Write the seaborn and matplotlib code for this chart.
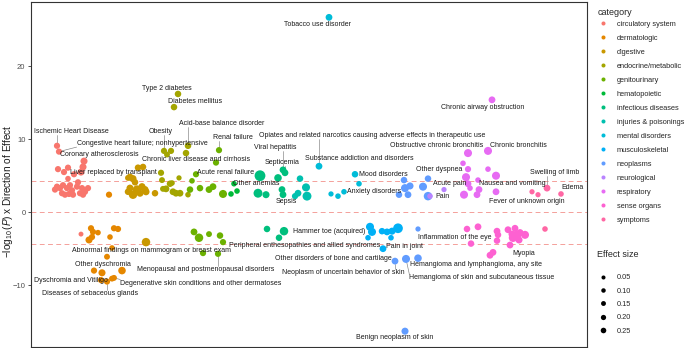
import numpy as np
import pandas as pd
import matplotlib
matplotlib.use("Agg")
import matplotlib.pyplot as plt
import seaborn as sns
from matplotlib.lines import Line2D

# ---------------- data ----------------
categories = ["circulatory system", "dermatologic", "digestive", "endocrine/metabolic",
              "genitourinary", "hematopoietic", "infectious diseases", "injuries & poisonings",
              "mental disorders", "musculoskeletal", "neoplasms", "neurological",
              "respiratory", "sense organs", "symptoms"]
palette_hex = ["#F8766D", "#E58700", "#C99800", "#A3A500", "#6BB100", "#00BA38", "#00BF7D",
               "#00C0AF", "#00BCD8", "#00B0F6", "#619CFF", "#B983FF", "#E76BF3", "#FD61D1",
               "#FF67A4"]

# (phenotype position, -log10(P) x direction, effect size)
circulatory = [(27, 9.1, .35), (29, 8.3, .35), (54, 7.0, .5), (53, 6.2, .5), (28, 5.9, .35),
               (38, 6.1, .35), (34, 5.5, .35), (44, 5.2, .35), (51, 5.5, .5), (38, 4.6, .25),
               (27, 3.5, .35), (30, 3.3, .35), (33, 3.7, .35), (37, 3.3, .35), (40, 3.7, .35),
               (42, 3.0, .35), (47, 3.5, .35), (52, 3.3, .35), (55, 2.8, .35), (58, 3.3, .35),
               (35, 2.4, .35), (43, 2.4, .35), (50, 2.6, .35), (39, 2.5, .35), (53, 2.4, .35),
               (48, 4.1, .35), (32, 2.6, .35), (25, 3.1, .35), (51, -3.0, .15)]
dermatologic = [(79, 2.4, .35), (61, -2.2, .35), (84, -2.2, .35), (88, -2.3, .35), (63, -2.7, .35),
                (68, -2.8, .25), (59, -3.8, .5), (62, -3.4, .35), (80, -3.4, .25), (82, -4.9, .25),
                (77, -6.1, .3), (64, -8.0, .35), (72, -8.3, .5), (92, -8.0, .6), (82, -9.1, .3),
                (77, -9.5, .35), (84, -9.0, .3), (71, -9.3, .35)]
digestive = [(108, 6.1, .4), (113, 6.2, .4), (100, 4.8, .5), (103, 4.6, .5), (105, 4.1, .4),
             (100, 3.3, .5), (107, 3.1, .8), (112, 3.5, .5), (115, 3.1, .5), (103, 2.4, .8),
             (110, 2.6, .5), (125, 2.6, .4), (98, 2.8, .4), (116, 2.8, .5), (98, 4.7, .3),
             (116, -4.1, .8)]
endocrine = [(148, 16.2, .4), (144, 14.4, .4), (134, 8.4, .35), (141, 8.4, .35), (137, 7.9, .3),
             (158, 9.1, .4), (156, 8.1, .4), (131, 5.4, .35), (149, 4.7, .2), (132, 4.4, .3),
             (140, 3.9, .4), (136, 3.2, .45), (143, 2.8, .45), (146, 2.6, .45), (150, 2.6, .45),
             (158, 2.4, .25), (133, 3.2, .3), (142, 4.0, .25)]
genitourinary = [(189, 8.5, .35), (186, 6.8, .35), (166, 5.2, .35), (162, 4.3, .25), (160, 3.1, .4),
                 (170, 3.3, .4), (179, 3.1, .45), (183, 3.5, .45), (193, 2.5, .7), (164, -2.7, .45),
                 (169, -3.5, .8), (179, -3.0, .3), (190, -3.2, .4), (193, -4.1, .35), (173, -5.6, .35),
                 (188, -5.7, .35)]
hematopoietic = [(204, 3.9, .25), (207, 2.9, .25), (201, 2.5, .25)]
infectious = [(230, 5.0, 1.4), (228, 2.6, .9), (236, 2.4, .5), (248, 4.7, .6), (253, 5.8, .45),
              (255, 5.4, .45), (252, 3.1, .45), (253, 2.4, .45), (237, -2.3, .4), (254, -2.6, .8),
              (249, -3.5, .4)]
injuries = [(270, 4.6, .4), (276, 3.4, .7), (277, 2.2, .9), (268, 2.6, .45), (265, 2.2, .35)]
mental = [(299, 26.7, .45), (289, 6.3, .45), (325, 5.2, .4), (329, 3.9, .25), (301, 2.5, .2),
          (308, 2.2, .25), (314, 2.8, .25)]
musculoskeletal = [(340, -2.0, .7), (342, -2.7, .7), (352, -2.6, .4), (357, -2.7, .45),
                   (362, -2.6, .5), (368, -2.2, 1.1), (338, -3.5, .25), (361, -3.5, .25),
                   (353, -5.0, .45)]
neoplasms = [(374, 4.4, .4), (398, 4.6, .4), (380, 3.6, .5), (375, 3.3, .7), (393, 3.5, .7),
             (369, 2.4, .4), (378, 2.4, .45), (398, 2.2, .8), (388, -2.3, .2), (365, -6.7, .45),
             (376, -6.4, .7), (388, -6.3, .6), (375, -16.3, .5)]
neurological = [(414, 3.1, .2), (400, 2.2, .25)]
respiratory = [(462, 15.4, .45), (458, 8.4, .7), (438, 8.1, .7), (433, 6.7, .25), (438, 5.9, .35),
               (458, 5.9, .25), (466, 5.0, .7), (436, 4.8, .7), (448, 4.4, .25), (440, 3.3, .25),
               (434, 2.4, .7), (447, 2.4, .45), (449, 3.1, .45), (466, 2.8, .45), (438, 3.9, .45)]
sense_organs = [(437, -2.3, .4), (448, -2.0, .45), (467, -2.6, .45), (468, -3.1, .4), (467, -3.9, .4),
                (441, -4.3, .4), (480, -4.5, .45), (485, -2.2, .45), (487, -3.1, .9), (483, -3.5, .8),
                (490, -2.8, .5), (495, -3.1, .7), (482, -3.0, .5), (463, -5.5, .45), (460, -5.9, .45),
                (478, -2.4, .45), (489, -3.8, .5)]
symptoms = [(517, 3.3, .45), (502, 2.8, .2), (508, 2.4, .2), (531, 2.5, .25), (515, -2.3, .25)]

category_points = [circulatory, dermatologic, digestive, endocrine, genitourinary, hematopoietic,
                   infectious, injuries, mental, musculoskeletal, neoplasms, neurological,
                   respiratory, sense_organs, symptoms]

threshold = 4.3
yticks = [-10, 0, 10, 20]
effect_breaks = [0.05, 0.10, 0.15, 0.20, 0.25]

# labelled phenotypes: (name, target position, target value)
labels = [
    ("Tobacco use disorder", 299, 26.7), ("Type 2 diabetes", 148, 16.2),
    ("Diabetes mellitus", 144, 14.4), ("Ischemic Heart Disease", 27, 9.1),
    ("Congestive heart failure; nonhypertensive", 29, 8.3), ("Coronary atherosclerosis", 29, 8.3),
    ("Obesity", 134, 8.4), ("Acid-base balance disorder", 158, 9.1), ("Renal failure", 189, 8.5),
    ("Chronic liver disease and cirrhosis", 186, 6.8), ("Liver replaced by transplant", 108, 6.1),
    ("Acute renal failure", 166, 5.2),
    ("Opiates and related narcotics causing adverse effects in therapeutic use", 289, 6.3),
    ("Substance addiction and disorders", 289, 6.3), ("Viral hepatitis", 253, 5.8),
    ("Septicemia", 255, 5.4), ("Other anemias", 204, 3.9), ("Sepsis", 253, 2.4),
    ("Mood disorders", 325, 5.2), ("Anxiety disorders", 314, 2.8), ("Other dyspnea", 433, 6.7),
    ("Obstructive chronic bronchitis", 438, 8.1), ("Chronic bronchitis", 458, 8.4),
    ("Chronic airway obstruction", 462, 15.4), ("Acute pain", 414, 3.1), ("Pain", 400, 2.2),
    ("Nausea and vomiting", 502, 2.8), ("Swelling of limb", 517, 3.3), ("Edema", 531, 2.5),
    ("Fever of unknown origin", 508, 2.4), ("Hammer toe (acquired)", 340, -2.0),
    ("Peripheral enthesopathies and allied syndromes", 338, -3.5), ("Pain in joint", 361, -3.5),
    ("Other disorders of bone and cartilage", 353, -5.0),
    ("Neoplasm of uncertain behavior of skin", 365, -6.7),
    ("Hemangioma and lymphangioma, any site", 388, -6.3),
    ("Hemangioma of skin and subcutaneous tissue", 376, -6.4),
    ("Benign neoplasm of skin", 375, -16.3), ("Inflammation of the eye", 467, -3.9),
    ("Myopia", 480, -4.5), ("Abnormal findings on mammogram or breast exam", 173, -5.6),
    ("Menopausal and postmenopausal disorders", 188, -5.7), ("Other dyschromia", 77, -6.1),
    ("Dyschromia and Vitiligo", 71, -9.3),
    ("Degenerative skin conditions and other dermatoses", 84, -9.0),
    ("Diseases of sebaceous glands", 77, -9.5),
]
# text placement (layout, repel-style)
label_xy = [
    (287, 25.7), (137, 17.0), (165, 15.2), (41, 11.0), (112, 9.4), (69, 7.9), (131, 11.1),
    (192, 12.1), (203, 10.2), (166, 7.2), (83, 5.5), (196, 5.5), (342, 10.5), (329, 7.3),
    (245, 8.9), (252, 6.8), (226, 3.9), (256, 1.4), (353, 5.2), (344, 2.9), (409, 5.8),
    (407, 9.1), (488, 9.2), (453, 14.4), (420, 3.9), (413, 2.1), (482, 3.9), (525, 5.4),
    (542, 3.4), (497, 1.4), (299, -2.7), (275, -4.6), (375, -4.7), (303, -6.3), (313, -8.2),
    (446, -7.2), (452, -9.0), (365, -17.2), (425, -3.5), (494, -5.6), (121, -5.3),
    (176, -7.8), (73, -7.2), (41, -9.4), (171, -9.7), (60, -11.2),
]

# ---------------- frame ----------------
rows = []
for cat, pts in zip(categories, category_points):
    for x, y, e in pts:
        rows.append({"pos": x, "value": y, "effect": e, "category": cat})
df = pd.DataFrame(rows)

sns.set_theme(style="white")
plt.rcParams["font.family"] = ["Liberation Sans", "DejaVu Sans"]
plt.rcParams["mathtext.fontset"] = "custom"
plt.rcParams["mathtext.rm"] = "Liberation Sans"
plt.rcParams["mathtext.it"] = "Liberation Sans:italic"

fig = plt.figure(figsize=(6.85, 3.48), dpi=100)
ax = fig.add_axes([31 / 685, 1 - 346.5 / 348, (587 - 31) / 685, (346.5 - 2) / 348])

palette = dict(zip(categories, palette_hex))
s_lo, s_hi, n_lo, n_hi = 8.5, 68.0, 0.05, 1.6


def area(e):
    return s_lo + (e - n_lo) / (n_hi - n_lo) * (s_hi - s_lo)


sns.scatterplot(data=df, x="pos", y="value", hue="category", hue_order=categories,
                palette=palette, size="effect", sizes=(s_lo, s_hi), size_norm=(n_lo, n_hi),
                linewidth=0, alpha=1, legend=False, ax=ax, zorder=3)

for yv in (threshold, 0, -threshold):
    ax.axhline(yv, color="#F4A09A", lw=0.7, ls=(0, (5, 3.5)), zorder=1)

ax.set_xlim(1, 557)
ax.set_ylim(-18.4, 28.8)
ax.set_xticks([])
ax.set_yticks(yticks)
ax.tick_params(axis="y", length=2.5, width=0.6, color="#333333", labelsize=5.5,
               labelcolor="#4D4D4D", pad=1.5, left=True)
ax.set_xlabel("")
ax.set_ylabel(r"$-\log_{10}(P)$ x Direction of Effect", fontsize=7.2, color="#1A1A1A",
              va="center", ha="center")
ax.yaxis.set_label_coords((8 - 31) / 556, (346.5 - 191) / 344.5)
for sp in ax.spines.values():
    sp.set_color("#333333")
    sp.set_linewidth(0.8)

# labels
texts = []
for (name, px, py), (tx, ty) in zip(labels, label_xy):
    t = ax.text(tx, ty, name, fontsize=5.0, color="#1A1A1A", ha="center", va="center", zorder=5)
    texts.append((t, px, py))

fig.canvas.draw()
rend = fig.canvas.get_renderer()
inv = ax.transData.inverted()
for t, px, py in texts:
    bb = t.get_window_extent(rend)
    P = ax.transData.transform((px, py))
    cx = min(max(P[0], bb.x0), bb.x1)
    cy = min(max(P[1], bb.y0), bb.y1)
    d = np.hypot(P[0] - cx, P[1] - cy)
    if d < 6:
        continue
    u = (P - np.array([cx, cy])) / d
    end = P - u * 2.5
    a = inv.transform((cx, cy))
    b = inv.transform(end)
    ax.plot([a[0], b[0]], [a[1], b[1]], color="#7F7F7F", lw=0.45, zorder=2)

# legends
cat_handles = [Line2D([], [], ls="", marker="o", markersize=2.9, markerfacecolor=c,
                      markeredgewidth=0, label=n) for n, c in zip(categories, palette_hex)]
leg1 = fig.legend(handles=cat_handles, title="category", loc="upper left",
                  bbox_to_anchor=(596 / 685, 1 - 7 / 348), frameon=False, fontsize=5.3,
                  title_fontsize=6.5, labelspacing=0.93, handlelength=1.6, handletextpad=1.0,
                  borderaxespad=0, borderpad=0.2)
leg1._legend_box.align = "left"
leg1._legend_box.sep = 2.1
eff_handles = [Line2D([], [], ls="", marker="o", markersize=np.sqrt(area(e)), markerfacecolor="black",
                      markeredgewidth=0, label=f"{e:.2f}") for e in effect_breaks]
leg2 = fig.legend(handles=eff_handles, title="Effect size", loc="upper left",
                  bbox_to_anchor=(596 / 685, 1 - 249 / 348), frameon=False, fontsize=5.3,
                  title_fontsize=6.5, labelspacing=0.85, handlelength=1.6, handletextpad=1.0,
                  borderaxespad=0, borderpad=0.2)
leg2._legend_box.align = "left"
leg2._legend_box.sep = 10.5

fig.savefig("out.png", dpi=100)
